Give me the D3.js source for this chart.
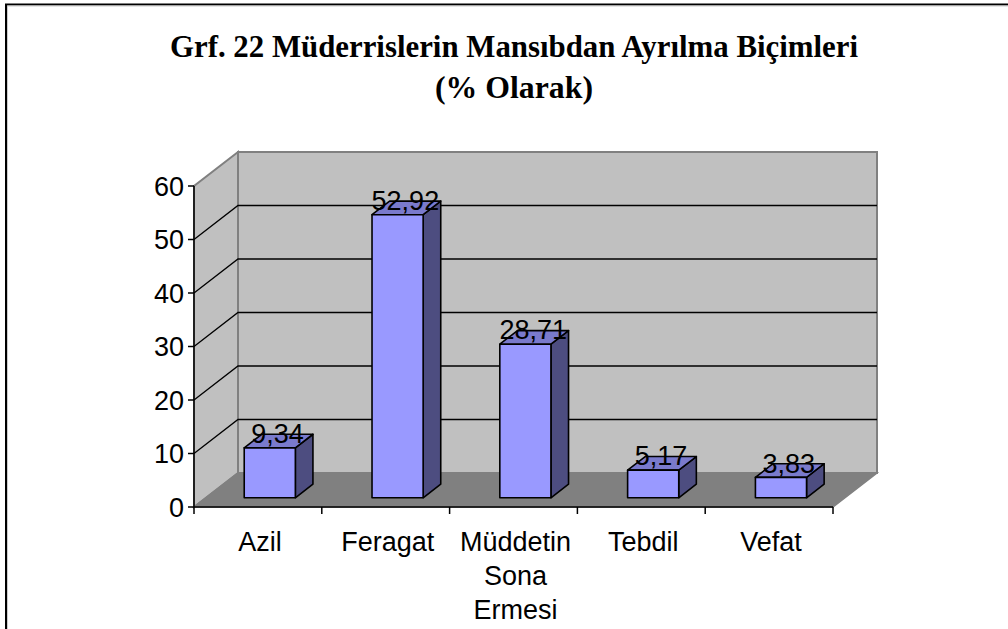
<!DOCTYPE html>
<html><head><meta charset="utf-8">
<script src="https://cdn.jsdelivr.net/npm/d3@7"></script>
<style>body{margin:0;background:#fff}svg{display:block}</style>
</head><body>
<script>
const categories = ["Azil", "Feragat", "Müddetin Sona Ermesi", "Tebdil", "Vefat"];
const values = [9.34, 52.92, 28.71, 5.17, 3.83];
const valueLabels = ["9,34", "52,92", "28,71", "5,17", "3,83"];
const yTicks = [0, 10, 20, 30, 40, 50, 60];
const titleLines = ["Grf. 22 Müderrislerin Mansıbdan Ayrılma Biçimleri", "(% Olarak)"];

const W = 1008, H = 629;
const svg = d3.select("body").append("svg").attr("width", W).attr("height", H);

// frame
svg.append("path").attr("d", "M6,629 V4.5 H1008").attr("fill", "none").attr("stroke", "#000").attr("stroke-width", 2);
svg.append("path").attr("d", "M7.5,629 V6 H1008").attr("fill", "none").attr("stroke", "#ccc").attr("stroke-width", 1);

// title
const titleY = [57, 98], titleLen = [688, 158];
svg.selectAll("text.title").data(titleLines).join("text")
  .attr("class", "title")
  .attr("x", 514).attr("y", (d, i) => titleY[i])
  .attr("text-anchor", "middle")
  .attr("font-family", "'Liberation Serif', 'Times New Roman', serif")
  .attr("font-weight", "bold").attr("font-size", 31)
  .attr("textLength", (d, i) => titleLen[i]).attr("lengthAdjust", "spacingAndGlyphs")
  .text(d => d);

// 3D geometry
const DX = 44, DY = -34;
const x = d3.scaleBand().domain(categories).range([194, 833]).paddingInner(0).paddingOuter(0);
const y = d3.scaleLinear().domain([0, 60]).range([507, 186]);
const x0 = x.range()[0], x1 = x.range()[1];
const f1 = 0.27, f2 = 0.67; // bar depth fractions
const barW = x.bandwidth() * 0.4;

const pt = (px, py, f) => [px + f * DX, py + f * DY];
const poly = pts => "M" + pts.map(p => p.join(",")).join("L") + "Z";

// back wall
svg.append("path")
  .attr("d", poly([pt(x0, y(60), 1), pt(x1, y(60), 1), pt(x1, y(0), 1), pt(x0, y(0), 1)]))
  .attr("fill", "#c0c0c0").attr("stroke", "#808080").attr("stroke-width", 2);
// side wall
svg.append("path")
  .attr("d", poly([[x0, y(0)], [x0, y(60)], pt(x0, y(60), 1), pt(x0, y(0), 1)]))
  .attr("fill", "#c0c0c0").attr("stroke", "#808080").attr("stroke-width", 2);
// floor
svg.append("path")
  .attr("d", poly([[x0, y(0)], [x1, y(0)], pt(x1, y(0), 1), pt(x0, y(0), 1)]))
  .attr("fill", "#808080").attr("stroke", "#808080").attr("stroke-width", 1.5);

// gridlines
const grid = yTicks.filter(v => v > 0 && v < 60);
svg.selectAll("path.grid").data(grid).join("path")
  .attr("class", "grid")
  .attr("d", v => "M" + [x0, y(v)].join(",") + "L" + pt(x0, y(v), 1).join(",") + "L" + pt(x1, y(v), 1).join(","))
  .attr("fill", "none").attr("stroke", "#000").attr("stroke-width", 1.3);

// y axis
svg.append("line").attr("x1", x0).attr("x2", x0).attr("y1", y(0)).attr("y2", y(60))
  .attr("stroke", "#000").attr("stroke-width", 1.5);
svg.selectAll("line.ytick").data(yTicks).join("line")
  .attr("class", "ytick")
  .attr("x1", x0 - 6).attr("x2", x0).attr("y1", d => y(d)).attr("y2", d => y(d))
  .attr("stroke", "#000").attr("stroke-width", 1.5);
svg.selectAll("text.ylab").data(yTicks).join("text")
  .attr("class", "ylab")
  .attr("x", x0 - 10).attr("y", d => y(d)).attr("dy", "0.36em")
  .attr("text-anchor", "end")
  .attr("font-family", "'Liberation Sans', Arial, sans-serif").attr("font-size", 27)
  .text(d => d);

// x axis
svg.append("line").attr("x1", x0).attr("x2", x1).attr("y1", y(0)).attr("y2", y(0))
  .attr("stroke", "#000").attr("stroke-width", 1.5);
const bounds = categories.map(c => x(c)).concat([x1]);
svg.selectAll("line.xtick").data(bounds).join("line")
  .attr("class", "xtick")
  .attr("x1", d => d).attr("x2", d => d).attr("y1", y(0)).attr("y2", y(0) + 7)
  .attr("stroke", "#000").attr("stroke-width", 1.5);

// category labels
const catLines = {"Müddetin Sona Ermesi": ["Müddetin", "Sona", "Ermesi"]};
const cl = svg.selectAll("text.xlab").data(categories).join("text")
  .attr("class", "xlab")
  .attr("text-anchor", "middle")
  .attr("font-family", "'Liberation Sans', Arial, sans-serif").attr("font-size", 27);
cl.each(function(c) {
  const lines = catLines[c] || [c];
  const t = d3.select(this);
  lines.forEach((ln, i) => {
    t.append("tspan").attr("x", x(c) + x.bandwidth() / 2 + 2).attr("y", 551 + i * 34).text(ln);
  });
});

// bars
const bars = svg.selectAll("g.bar").data(categories.map((c, i) => ({c, v: values[i], lab: valueLabels[i]}))).join("g").attr("class", "bar");
bars.each(function(d) {
  const g = d3.select(this);
  const cx = x(d.c) + x.bandwidth() / 2;
  const L = cx - barW / 2, R = cx + barW / 2;
  const yb = y(0), yt = y(d.v);
  const stroke = {stroke: "#000", "stroke-width": 1.6, "stroke-linejoin": "round"};
  const app = (pts, fill) => {
    const p = g.append("path").attr("d", poly(pts)).attr("fill", fill);
    Object.entries(stroke).forEach(([k, v]) => p.attr(k, v));
  };
  // side
  app([pt(R, yb, f1), pt(R, yb, f2), pt(R, yt, f2), pt(R, yt, f1)], "#4d4d80");
  // top
  app([pt(L, yt, f1), pt(R, yt, f1), pt(R, yt, f2), pt(L, yt, f2)], "#7a7acc");
  // front
  app([pt(L, yb, f1), pt(R, yb, f1), pt(R, yt, f1), pt(L, yt, f1)], "#9999ff");
  // value label
  const fm = (f1 + f2) / 2;
  const lp = pt(cx, yt, fm);
  g.append("text").attr("x", lp[0] - 1).attr("y", lp[1] + 2)
    .attr("text-anchor", "middle")
    .attr("font-family", "'Liberation Sans', Arial, sans-serif").attr("font-size", 27)
    .text(d.lab);
});
</script>
</body></html>
